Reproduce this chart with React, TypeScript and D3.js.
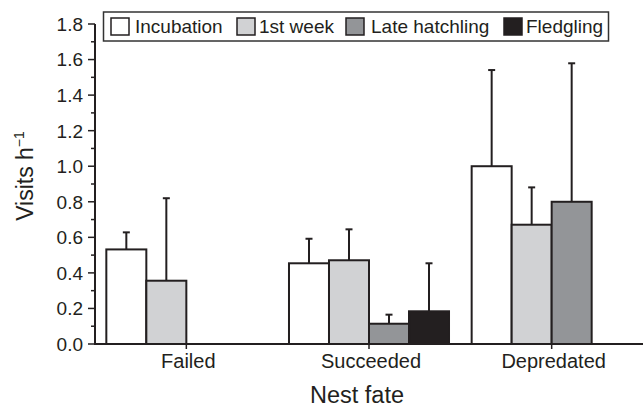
import React from "react";
import * as d3 from "d3";

const categories = ["Failed", "Succeeded", "Depredated"];
const series = ["Incubation", "1st week", "Late hatchling", "Fledgling"];
const colors = ["#ffffff", "#d1d2d4", "#939598", "#231f20"];
// means per series, per category (null = no bar)
const incubation = [0.532, 0.454, 1.0];
const firstWeek = [0.356, 0.471, 0.671];
const lateHatchling = [null, 0.114, 0.8];
const fledgling = [null, 0.184, null];
// upper error bar ends
const incubationErr = [0.628, 0.592, 1.541];
const firstWeekErr = [0.82, 0.645, 0.881];
const lateHatchlingErr = [null, 0.165, 1.579];
const fledglingErr = [null, 0.454, null];
const yTicks = [0, 0.2, 0.4, 0.6, 0.8, 1.0, 1.2, 1.4, 1.6, 1.8];

const values = [incubation, firstWeek, lateHatchling, fledgling];
const errs = [incubationErr, firstWeekErr, lateHatchlingErr, fledglingErr];

export default function App() {
  const W = 643, H = 407;
  const left = 95, right = 643, top = 24, bottom = 344;
  const x = d3.scaleBand<string>().domain(categories).range([left, right]).padding(0);
  const groupW = x.bandwidth() * 0.876;
  const xs = d3.scaleBand<string>().domain(series).range([0, groupW]).padding(0);
  const y = d3.scaleLinear().domain([0, 1.8]).range([bottom, top]);
  const minor = d3.range(0.1, 1.8, 0.2);
  const font = "'Liberation Sans', Arial, Helvetica, sans-serif";
  const dark = "#231f20";

  const legendItems = [
    { x: 111, tx: 135 },
    { x: 237, tx: 259 },
    { x: 346, tx: 371 },
    { x: 504, tx: 526 },
  ];

  return (
    <svg width={W} height={H} style={{ position: "absolute", left: 0, top: 0, background: "#fff" }} fontFamily={font}>
      {/* bars */}
      {categories.map((c, ci) => {
        const gx = x(c)! + (x.bandwidth() - groupW) / 2;
        return (
          <g key={c}>
            {series.map((s, si) => {
              const v = values[si][ci];
              if (v == null) return null;
              const bx = gx + xs(s)!;
              const bw = xs.bandwidth();
              const e = errs[si][ci];
              const cx = bx + bw / 2;
              return (
                <g key={s}>
                  {e != null && (
                    <g stroke={dark} strokeWidth={2}>
                      <line x1={cx} x2={cx} y1={y(v)} y2={y(e)} />
                      <line x1={cx - 3.5} x2={cx + 3.5} y1={y(e)} y2={y(e)} />
                    </g>
                  )}
                  <rect x={bx} y={y(v)} width={bw} height={y(0) - y(v)} fill={colors[si]} stroke={dark} strokeWidth={2} />
                </g>
              );
            })}
          </g>
        );
      })}
      {/* y axis */}
      <line x1={left} x2={left} y1={top} y2={bottom} stroke={dark} strokeWidth={2} />
      {yTicks.map((t) => (
        <g key={t}>
          <line x1={left - 7} x2={left} y1={y(t)} y2={y(t)} stroke={dark} strokeWidth={1.5} />
          <text x={left - 12} y={y(t)} dy="0.36em" textAnchor="end" fontSize={19} fill={dark}>
            {t.toFixed(1)}
          </text>
        </g>
      ))}
      {minor.map((t) => (
        <line key={t} x1={left - 4} x2={left} y1={y(t)} y2={y(t)} stroke={dark} strokeWidth={1.5} />
      ))}
      {/* x axis */}
      <line x1={left - 1} x2={right} y1={bottom} y2={bottom} stroke={dark} strokeWidth={2} />
      {categories.map((c) => {
        const cx = x(c)! + x.bandwidth() / 2;
        return (
          <g key={c}>
            <line x1={cx} x2={cx} y1={bottom} y2={bottom + 5} stroke={dark} strokeWidth={1.5} />
            <text x={cx + 2} y={368} textAnchor="middle" fontSize={20} fill={dark}>
              {c}
            </text>
          </g>
        );
      })}
      <text x={357} y={403} textAnchor="middle" fontSize={23.5} fill={dark}>
        Nest fate
      </text>
      <text transform={`translate(33, ${176}) rotate(-90)`} textAnchor="middle" fontSize={23} fill={dark}>
        Visits h<tspan dy={-9} fontSize={14}>−1</tspan>
      </text>
      {/* legend */}
      <rect x={103.5} y={12} width={505} height={29} fill="#fff" stroke="#333" strokeWidth={1.5} />
      {series.map((s, i) => (
        <g key={s}>
          <rect x={legendItems[i].x} y={18} width={18} height={17} fill={colors[i]} stroke={dark} strokeWidth={1.5} />
          <text x={legendItems[i].tx} y={33} fontSize={19} fill={dark}>
            {s}
          </text>
        </g>
      ))}
    </svg>
  );
}
